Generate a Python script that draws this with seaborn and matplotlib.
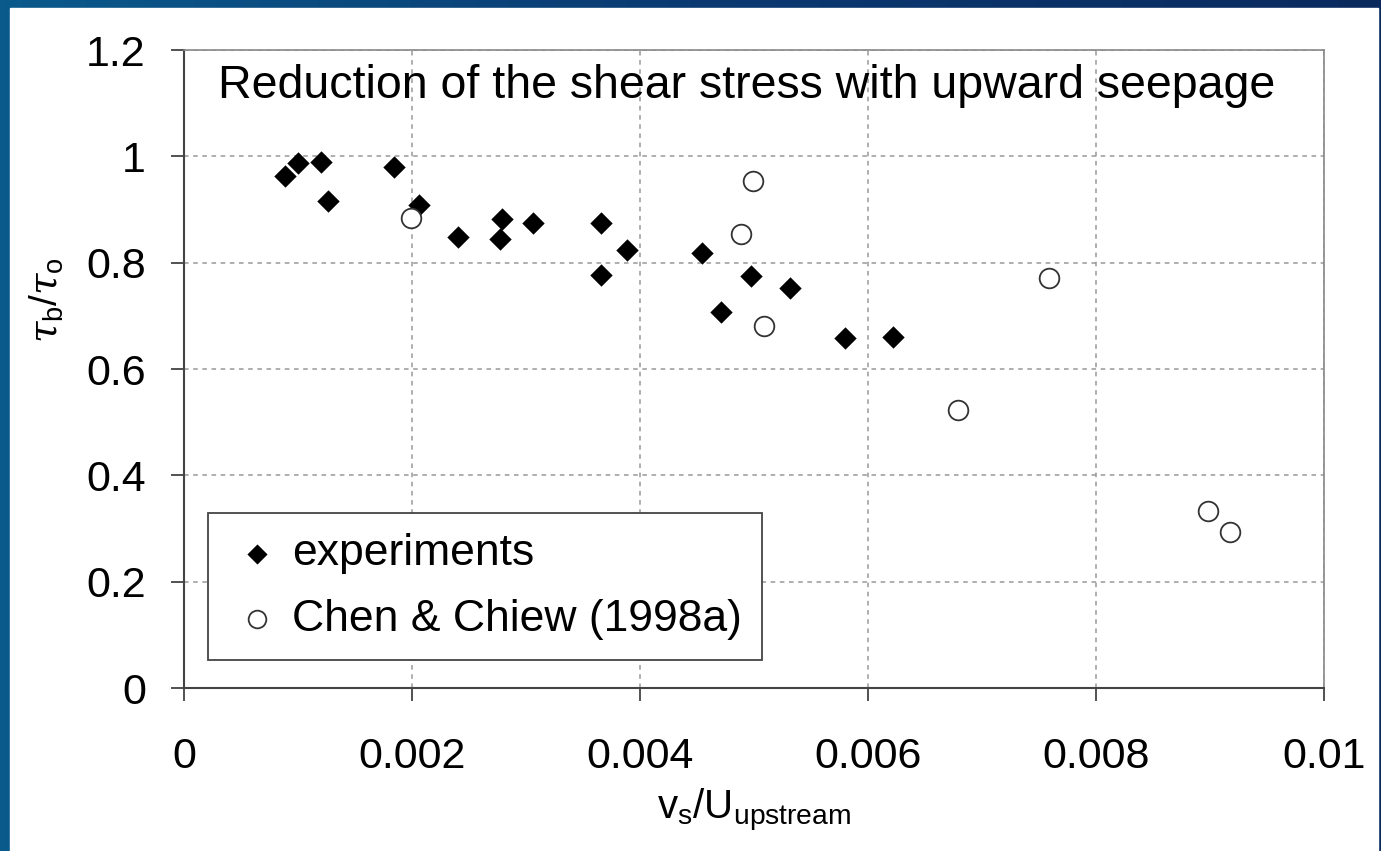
import numpy as np
import pandas as pd
import matplotlib
matplotlib.use('Agg')
import matplotlib.pyplot as plt
import seaborn as sns
from matplotlib.patches import Rectangle

# values
exp_x = [0.00089, 0.00100, 0.00120, 0.00126, 0.00184, 0.00206, 0.00240,
         0.00279, 0.00277, 0.00306, 0.00366, 0.00389, 0.00366, 0.00454,
         0.00471, 0.00497, 0.00532, 0.00580, 0.00622]
exp_y = [0.963, 0.988, 0.990, 0.916, 0.980, 0.908, 0.848,
         0.882, 0.844, 0.875, 0.875, 0.824, 0.777, 0.818,
         0.707, 0.775, 0.752, 0.658, 0.660]

chen_x = [0.00199, 0.00499, 0.00489, 0.00509, 0.00679, 0.00759, 0.00898, 0.00918]
chen_y = [0.884, 0.954, 0.854, 0.681, 0.523, 0.771, 0.333, 0.293]

x_ticks = [0, 0.002, 0.004, 0.006, 0.008, 0.01]
x_tick_labels = ['0', '0.002', '0.004', '0.006', '0.008', '0.01']
y_ticks = [0, 0.2, 0.4, 0.6, 0.8, 1.0, 1.2]
y_tick_labels = ['0', '0.2', '0.4', '0.6', '0.8', '1', '1.2']

exp_df = pd.DataFrame({'vs': exp_x, 'tau': exp_y})
chen_df = pd.DataFrame({'vs': chen_x, 'tau': chen_y})

sns.set_style('white')
plt.rcParams['font.family'] = ['Liberation Sans', 'DejaVu Sans']
plt.rcParams['text.color'] = 'black'
plt.rcParams['axes.labelcolor'] = 'black'
plt.rcParams['mathtext.fontset'] = 'custom'
plt.rcParams['mathtext.rm'] = 'Liberation Sans'
plt.rcParams['mathtext.it'] = 'DejaVu Serif:italic'

fig = plt.figure(figsize=(13.81, 8.51), dpi=100)

# blue slide background with white panel
bg = fig.add_axes([0, 0, 1, 1], zorder=-10)
grad = np.linspace(0, 1, 256).reshape(1, -1)
bg.imshow(grad, aspect='auto', extent=[0, 1, 0, 1],
          cmap=matplotlib.colors.LinearSegmentedColormap.from_list('bg', ['#0b5a8c', '#0a3a72', '#0a2a5e']))
bg.add_patch(Rectangle((10 / 1381, 0), 1368 / 1381, 843 / 851, color='white'))
bg.set_xlim(0, 1)
bg.set_ylim(0, 1)
bg.axis('off')

ax = fig.add_axes([0.1332, 0.1915, 0.8255, 0.7497])
ax.set_facecolor('white')

sns.scatterplot(x='vs', y='tau', data=exp_df, marker='D', s=130, color='black',
                edgecolor='black', linewidth=0, label='experiments', ax=ax, zorder=3)
sns.scatterplot(x='vs', y='tau', data=chen_df, marker='o', s=200, facecolor='white',
                edgecolor='#333333', linewidth=1.3, label='Chen & Chiew (1998a)', ax=ax, zorder=3)

ax.set_xlim(0, 0.01)
ax.set_ylim(0, 1.2)
ax.set_xticks(x_ticks)
ax.set_xticklabels(x_tick_labels)
ax.set_yticks(y_ticks)
ax.set_yticklabels(y_tick_labels)
ax.tick_params(axis='both', direction='out', length=9.5, width=1.2, color='#333333',
               labelsize=31, labelcolor='black', left=True, bottom=True)
ax.tick_params(axis='y', pad=18)
ax.tick_params(axis='x', pad=26)

ax.grid(True, color='#999999', linestyle=(0, (3, 3)), linewidth=1.1)
for side in ['left', 'bottom']:
    ax.spines[side].set_color('#444444')
    ax.spines[side].set_linewidth(1.5)
for side in ['top', 'right']:
    ax.spines[side].set_color('#888888')
    ax.spines[side].set_linewidth(1.2)

ax.set_xlabel(r'$\mathrm{v_s/U_{upstream}}$', fontsize=29)
ax.set_ylabel(r'$\tau_\mathrm{b}/\tau_\mathrm{o}$', fontsize=28)
ax.xaxis.set_label_coords(0.5, -0.155)
ax.yaxis.set_label_coords(-0.104, 0.608)

ax.text(0.0298, 0.925, 'Reduction of the shear stress with upward seepage',
        transform=ax.transAxes, fontsize=33.5, va='baseline', ha='left')

leg = ax.legend(loc='upper left', bbox_to_anchor=(0.021, 0.274), borderaxespad=0,
                fontsize=32, frameon=True, fancybox=False, edgecolor='#444444',
                framealpha=1, borderpad=0.45, handletextpad=0.15, markerscale=0.9,
                labelspacing=0.55, handlelength=1.3)
leg.get_frame().set_linewidth(1.3)

plt.savefig('out.png', dpi=100)
plt.close()
